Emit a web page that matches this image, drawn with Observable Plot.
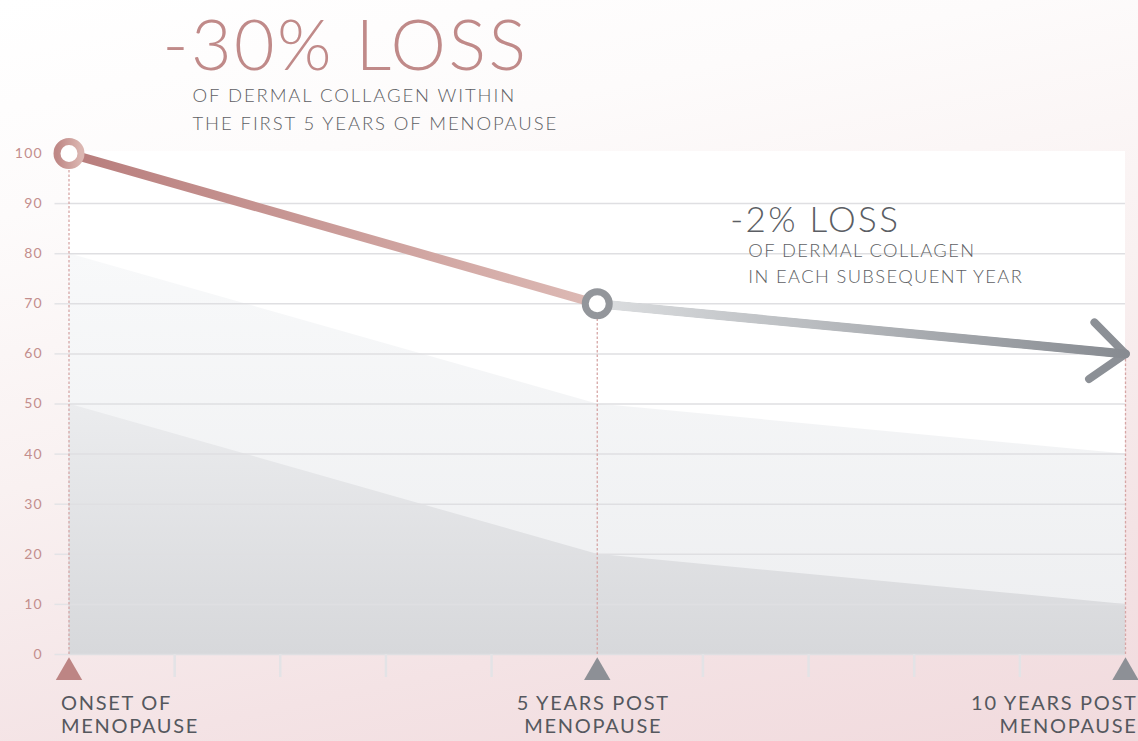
<!DOCTYPE html>
<html>
<head>
<meta charset="utf-8">
<script src="https://cdn.jsdelivr.net/npm/d3@7"></script>
<script src="https://cdn.jsdelivr.net/npm/@observablehq/plot@0.6"></script>
<style>
  html, body { margin: 0; padding: 0; }
  body {
    width: 1138px; height: 741px; overflow: hidden;
    background: linear-gradient(168deg, #ffffff 0%, #fdfbfb 22%, #f9f1f1 50%, #f4e3e5 78%, #f1dadd 100%);
    font-family: Lato, "Open Sans", sans-serif;
  }
  #chart svg { display: block; }
</style>
</head>
<body>
<div id="chart"></div>
<script>
// ---- data ----
const years = [0, 5, 10];
const collagen = [100, 70, 60];          // main collagen line
const upperBand = [80, 50, 40];          // light background band
const lowerBand = [50, 20, 10];          // darker background band
const yTicks = [0, 10, 20, 30, 40, 50, 60, 70, 80, 90, 100];
const gridTicks = [0, 10, 20, 30, 40, 50, 60, 70, 80, 90];
const minorYears = [1, 2, 3, 4, 6, 7, 8, 9];
const milestoneLabels = ["ONSET OF\nMENOPAUSE", "5 YEARS POST\nMENOPAUSE", "10 YEARS POST\nMENOPAUSE"];
const milestoneColors = ["#bd8584", "#8d9096", "#8d9096"];
const ringColors = ["url(#ring1)", "#93969b"];

const rows = years.map((year, i) => ({
  year, collagen: collagen[i], upper: upperBand[i], lower: lowerBand[i],
  label: milestoneLabels[i], color: milestoneColors[i]
}));
const ringRows = rows.slice(0, 2).map((d, i) => ({...d, ring: ringColors[i]}));
const pairs = d3.pairs(rows);

const bigNote = [{text: "-30% LOSS", x: 0.885, y: 126.5}];
const bigSub = [{text: "OF DERMAL COLLAGEN WITHIN\nTHE FIRST 5 YEARS OF MENOPAUSE", x: 1.169, y: 114.15}];
const midNote = [{text: "-2% LOSS", x: 6.26, y: 89.38}];
const midSub = [{text: "OF DERMAL COLLAGEN\nIN EACH SUBSEQUENT YEAR", x: 6.43, y: 83.17}];

const FONT = "Lato, 'Open Sans', sans-serif";

const chart = Plot.plot({
  width: 1138,
  height: 741,
  marginTop: 153,
  marginBottom: 87,
  marginLeft: 68.5,
  marginRight: 13,
  style: {background: "transparent", fontFamily: FONT, overflow: "visible"},
  x: {domain: [0, 10]},
  y: {domain: [0, 100]},
  color: {type: "identity"},
  marks: [
    // white panel
    Plot.rectY([0], {x1: 0, x2: 10, y1: 0, y2: 100.4, fill: "white"}),
    // background bands
    Plot.areaY(rows, {x: "year", y: "upper", fill: "url(#bandLight)"}),
    Plot.areaY(rows, {x: "year", y: "lower", fill: "url(#bandDark)"}),
    // grid + axes
    Plot.gridY(gridTicks, {stroke: "#dfdfe2", strokeOpacity: 1, strokeWidth: 1.5}),
    Plot.axisY(yTicks, {tickSize: 14, tickPadding: 12, stroke: "#e3e3e6", strokeWidth: 1.5,
      fill: "#c38e8d", fontSize: 14, label: null}),
    Plot.axisX(minorYears, {tickSize: 23, stroke: "#e3e3e6", strokeWidth: 2.5, tickFormat: () => "", label: null}),
    // dotted guide lines
    Plot.ruleX(rows, {x: "year", y1: 0, y2: "collagen", stroke: "#d6a6a5", strokeWidth: 1.3, strokeDasharray: "2.5,2"}),
    // milestone triangles
    Plot.dot(rows, {x: "year", y: 0, dy: 18, symbol: "triangle", r: 9.8, fill: "color", stroke: null}),
    // arrow head (shaft hidden below the gradient line)
    Plot.arrow(pairs.slice(1), {x1: d => d[0].year, y1: d => d[0].collagen, x2: d => d[1].year, y2: d => d[1].collagen,
      stroke: "#8c9096", strokeWidth: 8, headLength: 8.3, headAngle: 80}),
    // gradient line segments
    Plot.line(rows.slice(0, 2), {x: "year", y: "collagen", stroke: "url(#seg1)", strokeWidth: 9}),
    Plot.line(rows.slice(1), {x: "year", y: "collagen", stroke: "url(#seg2)", strokeWidth: 9}),
    // rings
    Plot.dot(ringRows, {x: "year", y: "collagen", r: 12, fill: "white", stroke: "ring", strokeWidth: 7}),
    // milestone labels
    Plot.text(rows.slice(0, 1), {x: "year", y: 0, text: "label", textAnchor: "start", lineAnchor: "top", dx: -8, dy: 38.7,
      fontSize: 20, lineHeight: 1.15, fill: "#55585e", fontWeight: 400, ariaLabel: "milestone"}),
    Plot.text(rows.slice(1, 2), {x: "year", y: 0, text: "label", textAnchor: "middle", lineAnchor: "top", dx: -4, dy: 38.7,
      fontSize: 20, lineHeight: 1.15, fill: "#55585e", fontWeight: 400}),
    Plot.text(rows.slice(2, 3), {x: "year", y: 0, text: "label", textAnchor: "end", lineAnchor: "top", dx: 12, dy: 38.7,
      fontSize: 20, lineHeight: 1.15, fill: "#55585e", fontWeight: 400}),
    // annotations
    Plot.text(bigNote, {x: "x", y: "y", text: "text", textAnchor: "start", lineAnchor: "top", fontSize: 70,
      fill: "#c08a89", fontWeight: 300}),
    Plot.text(bigSub, {x: "x", y: "y", text: "text", textAnchor: "start", lineAnchor: "top", fontSize: 18.5,
      lineHeight: 1.51, fill: "#5e5f64", fontWeight: 300}),
    Plot.text(midNote, {x: "x", y: "y", text: "text", textAnchor: "start", lineAnchor: "top", fontSize: 35,
      fill: "#5b5e64", fontWeight: 300}),
    Plot.text(midSub, {x: "x", y: "y", text: "text", textAnchor: "start", lineAnchor: "top", fontSize: 18.3,
      lineHeight: 1.44, fill: "#5e5f64", fontWeight: 300})
  ]
});

// gradients
const svg = d3.select(chart);
const defs = svg.insert("defs", ":first-child");
function lin(id, stops, vertical) {
  const g = defs.append("linearGradient").attr("id", id)
    .attr("x1", 0).attr("y1", 0).attr("x2", vertical ? 0 : 1).attr("y2", vertical ? 1 : 0);
  stops.forEach(([o, c]) => g.append("stop").attr("offset", o).attr("stop-color", c));
}
lin("seg1", [[0, "#b87d7c"], [1, "#ddbab5"]]);
lin("seg2", [[0, "#dcdee0"], [1, "#878b91"]]);
lin("ring1", [[0, "#bf8886"], [1, "#dbb6b1"]]);
lin("bandLight", [[0, "#f8f9fa"], [1, "#edeef0"]], true);
lin("bandDark", [[0, "#ebecee"], [1, "#d7d8db"]], true);

// letter spacing per text group
const spacing = new Map([
  ["-30% LOSS", "2.5px"],
  ["-2% LOSS", "2.3px"]
]);
svg.selectAll("text").each(function() {
  const t = this.textContent;
  let ls = "1.3px";
  if (spacing.has(t)) ls = spacing.get(t);
  else if (t.startsWith("OF DERMAL COLLAGEN WITHIN")) ls = "1.9px";
  else if (t.startsWith("OF DERMAL COLLAGENIN")) ls = "1.4px";
  else if (t.includes("MENOPAUSE") && !t.startsWith("OF")) ls = "1.7px";
  d3.select(this).style("letter-spacing", ls);
});

document.getElementById("chart").appendChild(chart);
</script>
</body>
</html>
